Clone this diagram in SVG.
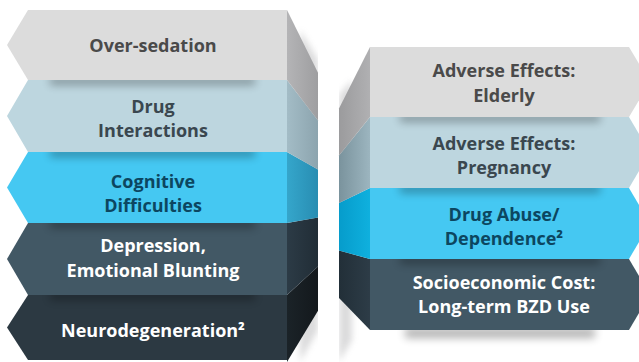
<svg xmlns="http://www.w3.org/2000/svg" width="639" height="362" viewBox="0 0 639 362">
<defs>
<style>
text{font-family:"Open Sans","Noto Sans","Liberation Sans",sans-serif;font-weight:700;font-size:18px;text-anchor:middle}
.tg{fill:#4a4a4a}.tb{fill:#3a474f}.tc{fill:#0c4660}.tw{fill:#ffffff}
.sh{fill:#000;opacity:.3;filter:url(#blur)}
</style>
<filter id="blur" x="-20%" y="-200%" width="140%" height="500%"><feGaussianBlur stdDeviation="4"/></filter>
<filter id="blur2" x="-50%" y="-50%" width="200%" height="200%"><feGaussianBlur stdDeviation="3"/></filter>
<linearGradient id="lg" x1="0" x2="1"><stop offset="0" stop-color="#b4b4b6"/><stop offset="1" stop-color="#9e9ea0"/></linearGradient>
<linearGradient id="lb" x1="0" x2="1"><stop offset="0" stop-color="#a3bcc6"/><stop offset="1" stop-color="#8ca4ae"/></linearGradient>
<linearGradient id="lc" x1="0" x2="1"><stop offset="0" stop-color="#35a6cb"/><stop offset="1" stop-color="#288db2"/></linearGradient>
<linearGradient id="ld" x1="0" x2="1"><stop offset="0" stop-color="#2c3b46"/><stop offset="1" stop-color="#212d36"/></linearGradient>
<linearGradient id="le" x1="0" x2="1"><stop offset="0" stop-color="#1b2328"/><stop offset="1" stop-color="#13181c"/></linearGradient>
<linearGradient id="rg" x1="0" x2="1"><stop offset="0" stop-color="#9b9b9d"/><stop offset="1" stop-color="#b0b0b2"/></linearGradient>
<linearGradient id="rb" x1="0" x2="1"><stop offset="0" stop-color="#7a939d"/><stop offset="1" stop-color="#9cb5bf"/></linearGradient>
<linearGradient id="rc" x1="0" x2="1"><stop offset="0" stop-color="#069ccb"/><stop offset="1" stop-color="#0fb0de"/></linearGradient>
<linearGradient id="rd" x1="0" x2="1"><stop offset="0" stop-color="#222f38"/><stop offset="1" stop-color="#2d3c47"/></linearGradient>
</defs>
<rect width="639" height="362" fill="#ffffff"/>
<!-- soft back-wall shading -->
<polygon points="300,30 318,60 318,330 300,362" fill="#9a9a9c" opacity=".35" filter="url(#blur2)"/>
<polygon points="339,95 352,80 352,340 339,362" fill="#9a9a9c" opacity=".35" filter="url(#blur2)"/>
<rect x="318" y="0" width="21" height="362" fill="#ffffff"/>

<!-- LEFT COLUMN (drawn bottom to top) -->
<g id="neurodegeneration">
<polygon points="287,295 28,295 7,327.5 28,360 287,360" fill="#2c3942"/>
<polygon points="287,295 318,266.6 318,310.8 287,362" fill="url(#le)"/>
<text class="tw" x="153" y="337">Neurodegeneration²</text>
</g>
<rect class="sh" x="50" y="292" width="205" height="8"/>
<g id="depression">
<polygon points="287,223 28,223 7,259 28,295 287,295" fill="#425865"/>
<polygon points="287,223 318,217.6 318,266.6 287,295" fill="url(#ld)"/>
<text class="tw" x="153" y="252">Depression,</text>
<text class="tw" x="153" y="277">Emotional Blunting</text>
</g>
<rect class="sh" x="50" y="220" width="205" height="8"/>
<g id="cognitive">
<polygon points="287,152 28,152 7,187.5 28,223 287,223" fill="#45c8f2"/>
<polygon points="287,152 318,169.4 318,217.6 287,223" fill="url(#lc)"/>
<text class="tc" x="153" y="188">Cognitive</text>
<text class="tc" x="153" y="212">Difficulties</text>
</g>
<rect class="sh" x="50" y="149" width="205" height="8"/>
<g id="drug-interactions">
<polygon points="287,80 28,80 7,116 28,152 287,152" fill="#bdd6df"/>
<polygon points="287,80 318,120.4 318,169.4 287,152" fill="url(#lb)"/>
<text class="tb" x="153" y="113">Drug</text>
<text class="tb" x="153" y="137">Interactions</text>
</g>
<rect class="sh" x="50" y="77" width="205" height="8"/>
<g id="over-sedation">
<polygon points="287,10 28,10 7,45 28,80 287,80" fill="#dcdcdc"/>
<polygon points="287,10 318,72.8 318,120.4 287,80" fill="url(#lg)"/>
<text class="tg" x="153" y="52">Over-sedation</text>
</g>

<!-- RIGHT COLUMN (drawn bottom to top) -->
<rect class="sh" x="405" y="328" width="190" height="10" opacity=".35"/>
<g id="socioeconomic">
<polygon points="370,259 629,259 650,294.5 629,330 370,330" fill="#425865"/>
<polygon points="370,259 339,250.5 339,298 370,330" fill="url(#rd)"/>
<text class="tw" x="504" y="289">Socioeconomic Cost:</text>
<text class="tw" x="504" y="313">Long-term BZD Use</text>
</g>
<rect class="sh" x="400" y="256" width="200" height="8"/>
<g id="drug-abuse">
<polygon points="370,188 629,188 650,223.5 629,259 370,259" fill="#45c8f2"/>
<polygon points="370,188 339,203 339,250.5 370,259" fill="url(#rc)"/>
<text class="tc" x="504" y="221">Drug Abuse/</text>
<text class="tc" x="504" y="245">Dependence²</text>
</g>
<rect class="sh" x="400" y="185" width="200" height="8"/>
<g id="pregnancy">
<polygon points="370,117 629,117 650,152.5 629,188 370,188" fill="#bdd6df"/>
<polygon points="370,117 339,155.4 339,203 370,188" fill="url(#rb)"/>
<text class="tb" x="504" y="150">Adverse Effects:</text>
<text class="tb" x="504" y="174">Pregnancy</text>
</g>
<rect class="sh" x="400" y="114" width="200" height="8"/>
<g id="elderly">
<polygon points="370,47 629,47 650,82 629,117 370,117" fill="#dcdcdc"/>
<polygon points="370,47 339,108.5 339,155.4 370,117" fill="url(#rg)"/>
<text class="tg" x="504" y="77">Adverse Effects:</text>
<text class="tg" x="504" y="102">Elderly</text>
</g>
<g id="connectors"/>
</svg>
